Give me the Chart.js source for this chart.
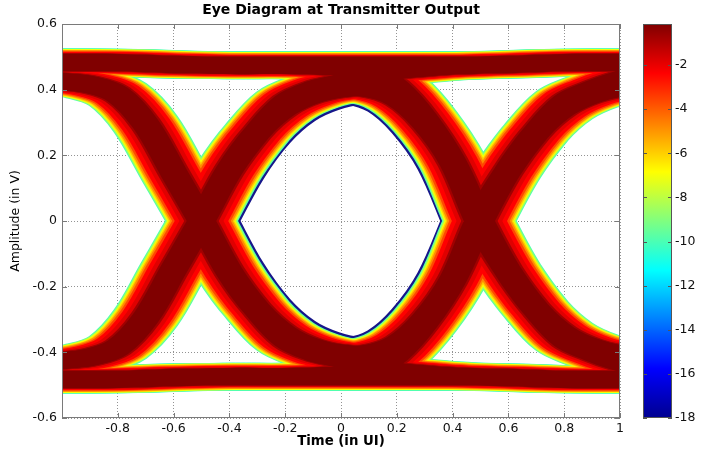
<!DOCTYPE html>
<html>
<head>
<meta charset="utf-8">
<script src="https://cdn.jsdelivr.net/npm/chart.js@4.4.1/dist/chart.umd.min.js"></script>
<style>
  html, body { margin: 0; padding: 0; background: #fff; }
  #wrap { position: relative; width: 703px; height: 453px; }
  #eye { position: absolute; left: 0; top: 0; }
  #cbar { position: absolute; left: 643px; top: 0; }
</style>
</head>
<body>
<div id="wrap">
  <canvas id="eye" width="703" height="453"></canvas>
  <canvas id="cbar" width="60" height="453"></canvas>
</div>
<script>
// sample times (UI) shared by every trace
const timeUI = [-1.1, -1.0, -0.9, -0.8, -0.7, -0.6, -0.5, -0.4, -0.3, -0.2, -0.1, 0.0,
                0.1, 0.2, 0.3, 0.4, 0.5, 0.6, 0.7, 0.8, 0.9, 1.0, 1.1];

// mean trace (V) for each 3-bit pattern: bit at -1 UI, bit at 0, bit at +1 UI
const trace111 = [0.483, 0.483, 0.483, 0.482, 0.480, 0.477, 0.475, 0.474, 0.474, 0.474, 0.474, 0.474,
                  0.474, 0.474, 0.474, 0.474, 0.475, 0.477, 0.480, 0.482, 0.483, 0.483, 0.483];
const trace110 = [0.483, 0.483, 0.483, 0.482, 0.480, 0.477, 0.475, 0.474, 0.474, 0.474, 0.472, 0.468,
                  0.455, 0.405, 0.310, 0.180, 0.000, -0.155, -0.270, -0.360, -0.400, -0.430, -0.450];
const trace100 = [0.430, 0.425, 0.415, 0.385, 0.295, 0.148, 0.000, -0.155, -0.270, -0.360, -0.400, -0.420,
                  -0.443, -0.458, -0.466, -0.472, -0.475, -0.477, -0.480, -0.482, -0.483, -0.483, -0.483];
const trace101 = [0.430, 0.425, 0.415, 0.385, 0.295, 0.148, 0.000, -0.155, -0.270, -0.345, -0.385, -0.403,
                  -0.403, -0.375, -0.300, -0.180, 0.015, 0.155, 0.270, 0.345, 0.385, 0.405, 0.410];
const trace010 = [-0.430, -0.425, -0.415, -0.385, -0.295, -0.148, 0.000, 0.155, 0.270, 0.345, 0.385, 0.403,
                  0.403, 0.375, 0.300, 0.180, -0.015, -0.155, -0.270, -0.345, -0.385, -0.405, -0.410];
const trace011 = [-0.430, -0.425, -0.415, -0.385, -0.295, -0.148, 0.000, 0.155, 0.270, 0.360, 0.400, 0.420,
                  0.443, 0.458, 0.466, 0.472, 0.475, 0.477, 0.480, 0.482, 0.483, 0.483, 0.483];
const trace001 = [-0.483, -0.483, -0.483, -0.482, -0.480, -0.477, -0.475, -0.474, -0.474, -0.474, -0.472, -0.468,
                  -0.455, -0.405, -0.310, -0.180, 0.000, 0.155, 0.270, 0.360, 0.400, 0.430, 0.450];
const trace000 = [-0.483, -0.483, -0.483, -0.482, -0.480, -0.477, -0.475, -0.474, -0.474, -0.474, -0.474, -0.474,
                  -0.474, -0.474, -0.474, -0.474, -0.475, -0.477, -0.480, -0.482, -0.483, -0.483, -0.483];

const xTicks = [-0.8, -0.6, -0.4, -0.2, 0, 0.2, 0.4, 0.6, 0.8, 1];
const xTickLabels = ['-0.8', '-0.6', '-0.4', '-0.2', '0', '0.2', '0.4', '0.6', '0.8', '1'];
const yTicks = [-0.6, -0.4, -0.2, 0, 0.2, 0.4, 0.6];
const yTickLabels = ['-0.6', '-0.4', '-0.2', '0', '0.2', '0.4', '0.6'];
const cbarTicks = [-18, -16, -14, -12, -10, -8, -6, -4, -2];
const cbarTickLabels = ['-18', '-16', '-14', '-12', '-10', '-8', '-6', '-4', '-2'];
const cbarRange = [-18, -0.14];

// ---- styles ----
const FONT = "'DejaVu Sans', 'Liberation Sans', sans-serif";
// density contours, outermost first: colour, stroke width (px), jitter spread (UI)
const levels = [
  { color: '#50ffb0', width: 27.5, jitter: 0.075 },
  { color: '#a8ff58', width: 26.5, jitter: 0.073 },
  { color: '#f8ff00', width: 25.5, jitter: 0.070 },
  { color: '#ffc800', width: 24.5, jitter: 0.067 },
  { color: '#ff8c00', width: 23.5, jitter: 0.064 },
  { color: '#ff4800', width: 22,   jitter: 0.060 },
  { color: '#ff0000', width: 20.5, jitter: 0.054 },
  { color: '#e00000', width: 19,   jitter: 0.040 },
  { color: '#a00000', width: 17.5, jitter: 0.026 },
  { color: '#800000', width: 16,   jitter: 0.020 }
];
// rare-event rim round the eye opening (blue end of the colour scale)
const rims = [
  { color: '#16168a', extra: 4.5 },
  { color: '#9ccfff', extra: 2 }
];
const jitterSteps = [-1, -0.75, -0.5, -0.25, 0, 0.25, 0.5, 0.75, 1];
const jetStops = [[0, '#00008f'], [0.125, '#0000ff'], [0.375, '#00ffff'],
                  [0.625, '#ffff00'], [0.875, '#ff0000'], [1, '#800000']];

const traces = [trace000, trace001, trace010, trace011, trace100, trace101, trace110, trace111];

function toPoints(list, shift, from, to) {
  const pts = [];
  list.forEach(tr => {
    tr.forEach((v, i) => {
      if (timeUI[i] >= from - 1e-9 && timeUI[i] <= to + 1e-9) pts.push({ x: timeUI[i] + shift, y: v });
    });
    pts.push({ x: to + shift, y: null }); // gap between traces
  });
  return pts;
}

const lineStyle = {
  pointRadius: 0,
  fill: false,
  clip: 0,
  tension: 0.35,
  borderJoinStyle: 'round'
};

const datasets = [];
levels.forEach((lv, li) => {
  jitterSteps.forEach(k => {
    datasets.push(Object.assign({
      data: toPoints(traces, k * lv.jitter, -2, 2),
      borderColor: lv.color,
      borderWidth: lv.width,
      borderCapStyle: 'round',
      order: levels.length - li + 1
    }, lineStyle));
  });
});
// inner side of the isolated-bit traces: late copy while leaving the crossing, early copy on return
const outer = levels[0];
rims.forEach((rm, ri) => {
  [[1, -0.5, 0.1], [-1, 0.0, 0.5]].forEach(part => {
    datasets.push(Object.assign({
      data: toPoints([trace010, trace101], part[0] * outer.jitter, part[1], part[2]),
      borderColor: rm.color,
      borderWidth: outer.width + rm.extra,
      borderCapStyle: 'butt',
      order: levels.length + 2 + ri
    }, lineStyle));
  });
});

// box round the plot with inward ticks, like the original
const axesFrame = {
  id: 'axesFrame',
  afterDatasetsDraw(chart) {
    const { ctx, chartArea: a, scales: { x, y } } = chart;
    ctx.save();
    ctx.strokeStyle = '#7a7a7a';
    ctx.lineWidth = 1;
    ctx.strokeRect(a.left + 0.5, a.top + 0.5, a.right - a.left - 1, a.bottom - a.top - 1);
    ctx.beginPath();
    xTicks.forEach(v => {
      const px = Math.round(x.getPixelForValue(v)) + 0.5;
      ctx.moveTo(px, a.bottom); ctx.lineTo(px, a.bottom - 5);
      ctx.moveTo(px, a.top); ctx.lineTo(px, a.top + 5);
    });
    yTicks.forEach(v => {
      const py = Math.round(y.getPixelForValue(v)) + 0.5;
      ctx.moveTo(a.left, py); ctx.lineTo(a.left + 5, py);
      ctx.moveTo(a.right, py); ctx.lineTo(a.right - 5, py);
    });
    ctx.stroke();
    ctx.restore();
  }
};

new Chart(document.getElementById('eye'), {
  type: 'line',
  data: { datasets: datasets },
  options: {
    responsive: false,
    animation: false,
    events: [],
    layout: { padding: { left: 0, top: 0, right: 83, bottom: 0 } },
    plugins: {
      legend: { display: false },
      tooltip: { enabled: false },
      title: {
        display: true,
        fullSize: false,
        text: 'Eye Diagram at Transmitter Output',
        color: '#000',
        font: { family: FONT, size: 14, weight: 'bold' },
        padding: { top: 2.2, bottom: 5 }
      }
    },
    scales: {
      x: {
        type: 'linear', min: -1, max: 1,
        afterFit: s => { s.height = 35; },
        afterBuildTicks: s => { s.ticks = xTicks.map(v => ({ value: v })); },
        grid: { color: 'rgba(120,120,120,0.8)', lineWidth: 1, drawTicks: false },
        border: { display: false, dash: [1, 2] },
        ticks: {
          autoSkip: false, maxRotation: 0, padding: 3, color: '#111',
          font: { family: FONT, size: 12.5 },
          callback: (v, i) => xTickLabels[i]
        },
        title: {
          display: true, text: 'Time (in UI)', color: '#000',
          font: { family: FONT, size: 13.3, weight: 'bold' },
          padding: { top: 0, bottom: 3 }
        }
      },
      y: {
        type: 'linear', min: -0.6, max: 0.6,
        afterFit: s => { s.width = 62; },
        afterBuildTicks: s => { s.ticks = yTicks.map(v => ({ value: v })); },
        grid: { color: 'rgba(120,120,120,0.8)', lineWidth: 1, drawTicks: false },
        border: { display: false, dash: [1, 2] },
        ticks: {
          autoSkip: false, padding: 5, color: '#111',
          font: { family: FONT, size: 12.5 },
          callback: (v, i) => yTickLabels[i]
        },
        title: {
          display: true, text: 'Amplitude (in V)', color: '#000',
          font: { family: FONT, size: 12.5 },
          padding: { top: 8.3, bottom: 0 }
        }
      }
    }
  },
  plugins: [axesFrame]
});

// colour bar
const cbarFrame = {
  id: 'cbarFrame',
  afterDraw(chart) {
    const { ctx, chartArea: a, scales: { y } } = chart;
    ctx.save();
    ctx.strokeStyle = '#555';
    ctx.lineWidth = 1;
    ctx.strokeRect(a.left + 0.5, a.top + 0.5, a.right - a.left - 1, a.bottom - a.top - 1);
    ctx.beginPath();
    cbarTicks.forEach(v => {
      const py = Math.round(y.getPixelForValue(v)) + 0.5;
      ctx.moveTo(a.left, py); ctx.lineTo(a.left + 4, py);
      ctx.moveTo(a.right, py); ctx.lineTo(a.right - 4, py);
    });
    ctx.stroke();
    ctx.restore();
  }
};

new Chart(document.getElementById('cbar'), {
  type: 'bar',
  data: {
    labels: [''],
    datasets: [{
      data: [cbarRange],
      borderWidth: 0,
      barPercentage: 1,
      categoryPercentage: 1,
      backgroundColor: c => {
        const a = c.chart.chartArea;
        if (!a) return '#00008f';
        const g = c.chart.ctx.createLinearGradient(0, a.bottom, 0, a.top);
        jetStops.forEach(s => g.addColorStop(s[0], s[1]));
        return g;
      }
    }]
  },
  options: {
    responsive: false,
    animation: false,
    events: [],
    layout: { padding: { left: 0, top: 24, right: 0, bottom: 35 } },
    plugins: { legend: { display: false }, tooltip: { enabled: false } },
    scales: {
      x: { display: false },
      y: {
        position: 'right', min: cbarRange[0], max: cbarRange[1],
        afterFit: s => { s.width = 31; },
        afterBuildTicks: s => { s.ticks = cbarTicks.map(v => ({ value: v })); },
        grid: { display: false, drawTicks: false },
        border: { display: false },
        ticks: {
          padding: 3, color: '#111',
          font: { family: FONT, size: 12.5 },
          callback: (v, i) => cbarTickLabels[i]
        }
      }
    }
  },
  plugins: [cbarFrame]
});
</script>
</body>
</html>
